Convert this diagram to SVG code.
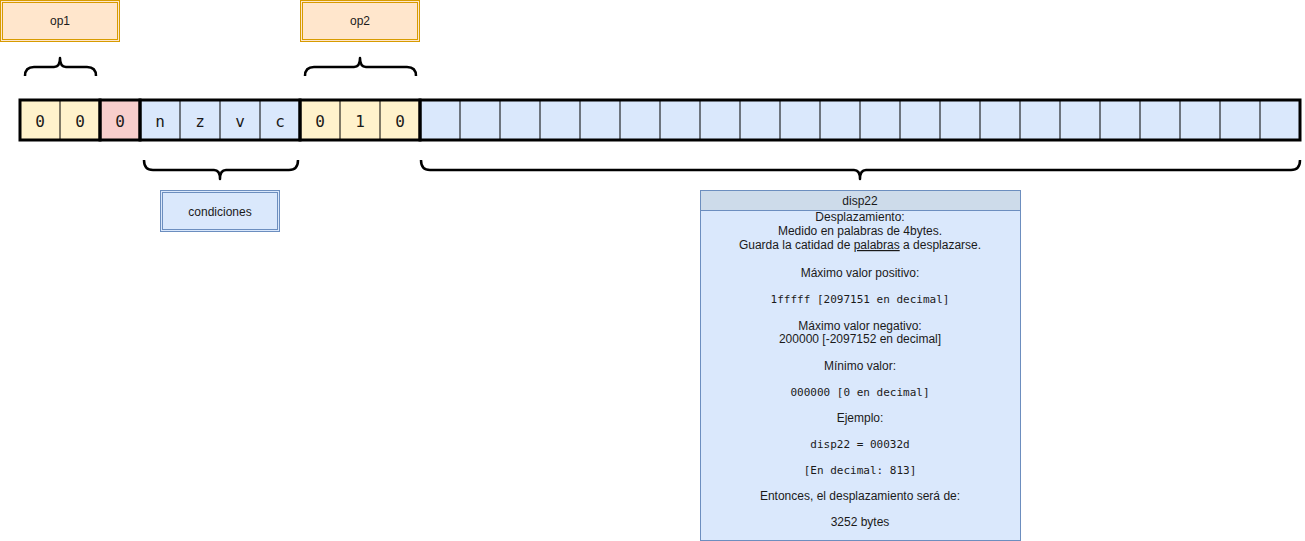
<svg xmlns="http://www.w3.org/2000/svg" width="1305" height="541" viewBox="0 0 1305 541">
<style>
.sans{font-family:"Liberation Sans",Arial,sans-serif;font-size:12px;fill:#1a1a1a;text-anchor:middle}
.mono{font-family:"DejaVu Sans Mono","Liberation Mono",monospace;font-size:11px;fill:#1a1a1a;text-anchor:middle}
.cell{font-family:"DejaVu Sans Mono","Liberation Mono",monospace;font-size:16px;fill:#1a1a1a;text-anchor:middle;dominant-baseline:central}
.thin{stroke:#000;stroke-width:1;fill:none}
.thick{stroke:#000;stroke-width:3;fill:none}
.brace{stroke:#000;stroke-width:2.5;fill:none;stroke-linejoin:round}
.orange{fill:#ffe6cc;stroke:#d79b00;stroke-width:1}
.blue{fill:#dae8fc;stroke:#6c8ebf;stroke-width:1}
</style>
<g id="op1">
<rect class="orange" x="0.5" y="0.5" width="119" height="41"/>
<rect class="orange" x="2.5" y="2.5" width="115" height="37"/>
<text class="sans" x="60" y="25">op1</text>
</g>
<g id="op2">
<rect class="orange" x="300.5" y="0.5" width="119" height="41"/>
<rect class="orange" x="302.5" y="2.5" width="115" height="37"/>
<text class="sans" x="360" y="25">op2</text>
</g>
<g id="register">
<rect x="20" y="100" width="80" height="40" fill="#fff2cc"/>
<rect x="100" y="100" width="40" height="40" fill="#f8cecc"/>
<rect x="140" y="100" width="160" height="40" fill="#dae8fc"/>
<rect x="300" y="100" width="120" height="40" fill="#fff2cc"/>
<rect x="420" y="100" width="880" height="40" fill="#dae8fc"/>
<path class="thin" d="M60,100V140M180,100V140M220,100V140M260,100V140M340,100V140M380,100V140M460,100V140M500,100V140M540,100V140M580,100V140M620,100V140M660,100V140M700,100V140M740,100V140M780,100V140M820,100V140M860,100V140M900,100V140M940,100V140M980,100V140M1020,100V140M1060,100V140M1100,100V140M1140,100V140M1180,100V140M1220,100V140M1260,100V140"/>
<rect class="thick" x="20" y="100" width="80" height="40"/>
<rect class="thick" x="100" y="100" width="40" height="40"/>
<rect class="thick" x="140" y="100" width="160" height="40"/>
<rect class="thick" x="300" y="100" width="120" height="40"/>
<rect class="thick" x="420" y="100" width="880" height="40"/>
<text class="cell" x="40" y="121">0</text>
<text class="cell" x="80" y="121">0</text>
<text class="cell" x="120" y="121">0</text>
<text class="cell" x="160" y="121">n</text>
<text class="cell" x="200" y="121">z</text>
<text class="cell" x="240" y="121">v</text>
<text class="cell" x="280" y="121">c</text>
<text class="cell" x="320" y="121">0</text>
<text class="cell" x="360" y="121">1</text>
<text class="cell" x="400" y="121">0</text>
</g>
<g id="connectors">
<path class="brace" d="M25,76Q25,67 34,67L54,67Q60,67 60,58Q60,67 66,67L87,67Q96,67 96,76"/>
<path class="brace" d="M305,76Q305,67 314,67L354,67Q360,67 360,58Q360,67 366,67L407,67Q416,67 416,76"/>
<path class="brace" d="M144,160Q144,170 153,170L214,170Q220,170 220,179Q220,170 226,170L289,170Q298,170 298,160"/>
<path class="brace" d="M421,160Q421,170 430,170L854,170Q860,170 860,179Q860,170 866,170L1291,170Q1300,170 1300,160"/>
</g>
<g id="condiciones">
<rect class="blue" x="160.5" y="190.5" width="119" height="41"/>
<rect class="blue" x="162.5" y="192.5" width="115" height="37"/>
<text class="sans" x="220" y="216">condiciones</text>
</g>
<g id="disp22">
<rect class="blue" x="700.5" y="190.5" width="320" height="350"/>
<rect x="700.5" y="190.5" width="320" height="20" fill="#cddbea" stroke="#6c8ebf"/>
<text class="sans" x="860" y="205">disp22</text>
<text class="sans" x="860" y="221">Desplazamiento:</text>
<text class="sans" x="860" y="235">Medido en palabras de 4bytes.</text>
<text class="sans" x="860" y="249">Guarda la catidad de <tspan text-decoration="underline">palabras</tspan> a desplazarse.</text>
<text class="sans" x="860" y="277">Máximo valor positivo:</text>
<text class="mono" x="860" y="303">1fffff [2097151 en decimal]</text>
<text class="sans" x="860" y="330">Máximo valor negativo:</text>
<text class="sans" x="860" y="343">200000 [-2097152 en decimal]</text>
<text class="sans" x="860" y="370">Mínimo valor:</text>
<text class="mono" x="860" y="396">000000 [0 en decimal]</text>
<text class="sans" x="860" y="422">Ejemplo:</text>
<text class="mono" x="860" y="448">disp22 = 00032d</text>
<text class="mono" x="860" y="474">[En decimal: 813]</text>
<text class="sans" x="860" y="500">Entonces, el desplazamiento será de:</text>
<text class="sans" x="860" y="526">3252 bytes</text>
</g>
</svg>
